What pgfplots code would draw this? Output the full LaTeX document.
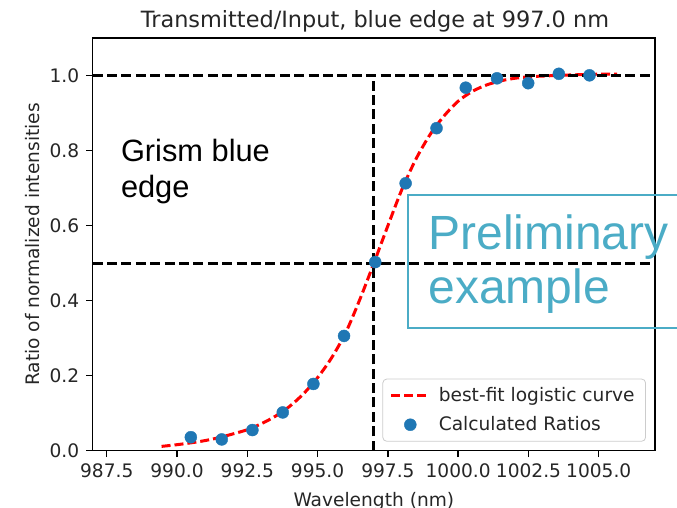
\documentclass[border=0pt]{standalone}
\usepackage{pgfplots}
\pgfplotsset{compat=1.18}
\usepackage{fontspec}
\setmainfont{DejaVu Sans}
\newfontfamily\arialfont{Liberation Sans}
\definecolor{mplblue}{HTML}{1F77B4}
\definecolor{prelim}{HTML}{4BACC6}
\pgfplotsset{
  linelegend/.style={legend image code/.code={\draw[##1] (0pt,0pt) -- (19pt,0pt);}},
  dotlegend/.style={legend image code/.code={\draw[mark repeat=2,mark phase=2,##1] plot coordinates {(0pt,0pt)(9.5pt,0pt)(19pt,0pt)};}},
}
\begin{document}
\begin{tikzpicture}
\useasboundingbox (0pt,0pt) rectangle (338.5pt,254pt);
\begin{axis}[
  at={(46.35pt,28.65pt)}, anchor=south west,
  scale only axis, width=281.15pt, height=206.25pt,
  xmin=987, xmax=1007, ymin=0, ymax=1.1,
  xtick={987.5,990,992.5,995,997.5,1000,1002.5,1005},
  ytick={0,0.2,0.4,0.6,0.8,1.0},
  /pgf/number format/assume math mode=true,
  xticklabel style={/pgf/number format/.cd, fixed, fixed zerofill, precision=1, 1000 sep={}},
  yticklabel style={/pgf/number format/.cd, fixed, fixed zerofill, precision=1},
  ticklabel style={font=\fontsize{9.3}{11}\selectfont, text=black!85},
  tick align=outside, xtick pos=bottom, ytick pos=left,
  major tick length=3.2pt,
  tick style={black, line width=0.7pt},
  axis line style={line width=0.7pt},
  xlabel={Wavelength (nm)}, ylabel={Ratio of normalized intensities},
  ylabel shift=-2pt,
  label style={font=\fontsize{9.3}{11}\selectfont, text=black!85},
  legend cell align=left,
  legend style={at={(rel axis cs:1,0)}, anchor=south east, xshift=-4.5pt, yshift=4.5pt,
    draw=white!80!black, rounded corners=2pt, fill=white,
    font=\fontsize{9.3}{11}\selectfont, inner xsep=3.5pt, inner ysep=2pt, row sep=2pt,
    nodes={text=black!85},
    /tikz/every odd column/.append style={column sep=2pt}},
]
\addplot[red, line width=1.5pt, dash pattern=on 4.5pt off 2pt, smooth, linelegend]
coordinates {
(989.45,0.0115) (990.0,0.016) (990.5,0.021) (991.0,0.027) (991.5,0.035)
(992.0,0.045) (992.5,0.056) (993.0,0.072) (993.5,0.092) (994.0,0.118)
(994.5,0.152) (995.0,0.195) (995.5,0.248) (996.0,0.315) (996.5,0.403)
(997.0,0.500) (997.5,0.600) (998.0,0.697) (998.5,0.778) (999.0,0.843)
(999.5,0.893) (1000.0,0.932) (1000.5,0.958) (1001.0,0.975) (1001.5,0.986)
(1002.0,0.993) (1002.5,0.997) (1003.0,0.999) (1004.0,1.002) (1005.0,1.004)
(1005.65,1.004)
};
\addlegendentry{best-fit logistic curve}
\addplot[only marks, mark=*, mark size=3pt, mplblue, mark options={draw=mplblue, fill=mplblue, line width=0.2pt}, dotlegend]
coordinates {
(990.49,0.036) (991.59,0.030) (992.68,0.055) (993.76,0.102) (994.85,0.178)
(995.94,0.306) (997.05,0.503) (998.13,0.713) (999.23,0.860) (1000.27,0.968)
(1001.38,0.993) (1002.49,0.980) (1003.58,1.005) (1004.67,1.001)
};
\addlegendentry{Calculated Ratios}
\addplot[forget plot, black, line width=1.4pt, dash pattern=on 5pt off 2.2pt] coordinates {(987,1.0) (1007,1.0)};
\addplot[forget plot, black, line width=1.4pt, dash pattern=on 5pt off 2.2pt] coordinates {(987,0.5) (1007,0.5)};
\addplot[forget plot, black, line width=1.4pt, dash pattern=on 5pt off 2.2pt] coordinates {(997,0) (997,1.0)};
\end{axis}
\node[font=\fontsize{11.2}{13}\selectfont, text=black!85, anchor=base] at (187.5pt,240.2pt) {Transmitted/Input, blue edge at 997.0 nm};
\node[font=\arialfont\fontsize{15.4}{17}\selectfont, anchor=base west, inner sep=0pt] at (60.3pt,173.1pt) {Grism blue};
\node[font=\arialfont\fontsize{15.4}{17}\selectfont, anchor=base west, inner sep=0pt] at (60.3pt,155.1pt) {edge};
\draw[prelim, line width=1pt] (339pt,156.5pt) -- (204.15pt,156.5pt) -- (204.15pt,89.85pt) -- (339pt,89.85pt);
\node[font=\arialfont\fontsize{24}{26}\selectfont, text=prelim, anchor=base west, inner sep=0pt] at (214pt,129pt) {Preliminary};
\node[font=\arialfont\fontsize{24}{26}\selectfont, text=prelim, anchor=base west, inner sep=0pt] at (214pt,102.35pt) {example};
\end{tikzpicture}
\end{document}
